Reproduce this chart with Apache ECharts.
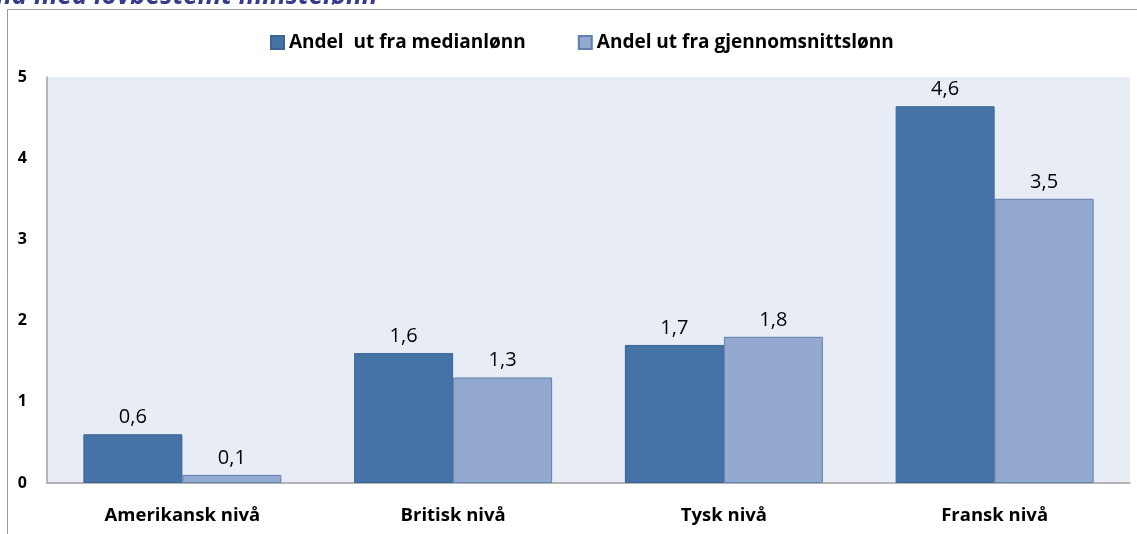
<!DOCTYPE html>
<html><head><meta charset="utf-8">
<script src="https://cdn.jsdelivr.net/npm/echarts@6/dist/echarts.min.js"></script>
<style>html,body{margin:0;padding:0;background:#fff}#c{width:1137px;height:534px}</style>
</head><body><div id="c"></div>
<script>
const categories = ['Amerikansk nivå', 'Britisk nivå', 'Tysk nivå', 'Fransk nivå'];
const seriesNames = ['Andel  ut fra medianlønn', 'Andel ut fra gjennomsnittslønn'];
const medianValues = [0.6, 1.6, 1.7, 4.64];
const averageValues = [0.1, 1.3, 1.8, 3.5];
const yTicks = [0, 1, 2, 3, 4, 5];
const titleText = 'na med lovbestemt minstelønn';

const FONT = 'Open Sans';
const chart = echarts.init(document.getElementById('c'), null, {renderer: 'canvas'});
const lbl = {show: true, position: 'top', distance: 7, color: '#000', fontSize: 20, fontFamily: FONT,
  formatter: p => p.value.toFixed(1).replace('.', ',')};
chart.setOption({
  animation: false,
  textStyle: {fontFamily: FONT},
  graphic: [
    {type: 'rect', shape: {x: 7.5, y: 9.5, width: 1200, height: 600}, style: {fill: 'none', stroke: '#9a9a9a', lineWidth: 1}, z: -10},
    {type: 'text', left: -4, top: -16, style: {text: titleText, fill: '#3a3a8c', font: 'italic bold 26px ' + FONT}}
  ],
  legend: {
    top: 28, left: 265, itemWidth: 13, itemHeight: 13, itemGap: 52,
    icon: 'rect',
    textStyle: {fontSize: 19, fontWeight: 'bold', color: '#000', fontFamily: FONT},
    data: seriesNames
  },
  grid: {left: 47, right: 7, top: 77, bottom: 51, backgroundColor: '#e8ecf4', show: true, borderWidth: 0},
  xAxis: {
    type: 'category', data: categories,
    axisLine: {lineStyle: {color: '#a0a0a0', width: 1.5}},
    axisTick: {show: false},
    axisLabel: {fontSize: 18.5, fontWeight: 'bold', color: '#000', margin: 23, fontFamily: FONT}
  },
  yAxis: {
    type: 'value', min: 0, max: 5, interval: 1,
    axisLine: {show: true, lineStyle: {color: '#a0a0a0', width: 1.5}},
    axisTick: {show: false},
    splitLine: {show: false},
    axisLabel: {fontSize: 16, fontWeight: 'bold', color: '#000', margin: 20, fontFamily: FONT,
      verticalAlign: 'middle', formatter: v => yTicks.includes(v) ? String(v) : ''}
  },
  series: [
    {name: seriesNames[0], type: 'bar', data: medianValues, barWidth: 99, barGap: '0%',
      itemStyle: {color: '#4572a7', borderColor: '#3b6494', borderWidth: 1}, label: lbl},
    {name: seriesNames[1], type: 'bar', data: averageValues, barWidth: 99,
      itemStyle: {color: '#93a9cf', borderColor: '#5f7fb0', borderWidth: 1}, label: lbl}
  ]
});
</script></body></html>
